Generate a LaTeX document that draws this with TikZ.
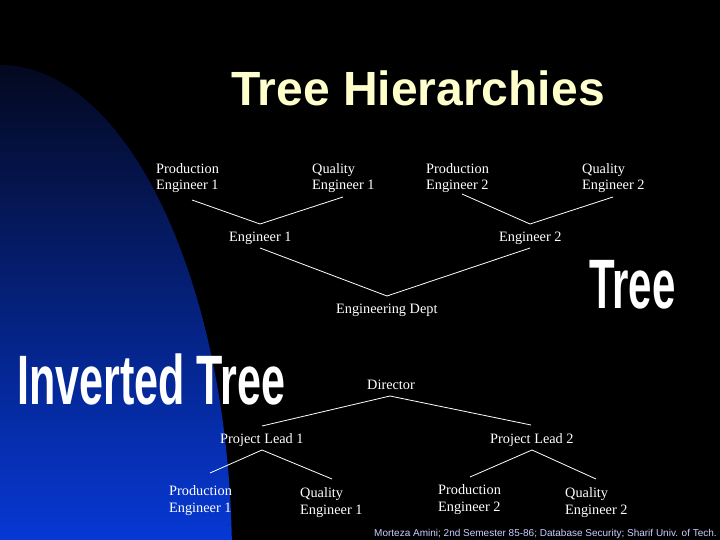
\documentclass[tikz,border=0pt]{standalone}
\usepackage{fontspec}
\setmainfont{Liberation Serif}
\newfontfamily\sansfont{Liberation Sans}
\definecolor{titlecol}{RGB}{255,255,204}
\definecolor{footcol}{RGB}{200,208,255}
\definecolor{navytop}{RGB}{4,8,30}
\definecolor{navymid}{RGB}{8,34,128}
\definecolor{navybot}{RGB}{6,56,212}
\tikzset{
  lbl/.style={text=white, font=\fontsize{14.3}{17}\selectfont, inner sep=0pt, anchor=base west, align=left},
  conn/.style={draw=white, line width=0.8pt},
  big/.style={text=white, inner sep=0pt, anchor=base west, font=\sansfont\bfseries\fontsize{70}{70}\selectfont}
}
\begin{document}
\begin{tikzpicture}[x=1pt,y=-1pt]
\fill[black] (0,0) rectangle (720,540);
\useasboundingbox (0,0) rectangle (720,540);
\begin{scope}
\clip (0,560) ellipse [x radius=232, y radius=495];
\shade[top color=navytop, middle color=navymid, bottom color=navybot] (0,60) rectangle (240,540);
\end{scope}

\node[inner sep=0pt, anchor=base west, text=titlecol, font=\sansfont\bfseries\fontsize{48}{48}\selectfont] (title) at (231,106) {Tree Hierarchies};

% top tree (base anchor = last line baseline)
\node[lbl] (pe1t) at (156,190) {Production\\Engineer 1};
\node[lbl] (qe1t) at (312,190) {Quality\\Engineer 1};
\node[lbl] (pe2t) at (426,190) {Production\\Engineer 2};
\node[lbl] (qe2t) at (582,190) {Quality\\Engineer 2};
\node[lbl] (e1) at (229,241) {Engineer 1};
\node[lbl] (e2) at (499,241) {Engineer 2};
\node[lbl] (ed) at (336,313) {Engineering Dept};

\coordinate (pe1tc) at (192,200);
\coordinate (qe1tc) at (343,197);
\coordinate (pe2tc) at (462,194);
\coordinate (qe2tc) at (613,197);
\coordinate (e1top) at (260,224);
\coordinate (e2top) at (530,224);
\coordinate (e1bot) at (260,248);
\coordinate (e2bot) at (530,248);
\coordinate (edtop) at (387,296);

\draw[conn] (pe1tc) -- (e1top) -- (qe1tc);
\draw[conn] (pe2tc) -- (e2top) -- (qe2tc);
\draw[conn] (e1bot) -- (edtop) -- (e2bot);

% bottom tree
\node[lbl] (dir) at (367,389) {Director};
\node[lbl] (pl1) at (220,443) {Project Lead 1};
\node[lbl] (pl2) at (490,443) {Project Lead 2};
\node[lbl] (pe1b) at (169,512) {Production\\Engineer 1};
\node[lbl] (qe1b) at (300,514) {Quality\\Engineer 1};
\node[lbl] (pe2b) at (438,511) {Production\\Engineer 2};
\node[lbl] (qe2b) at (565,514) {Quality\\Engineer 2};

\coordinate (dirbot) at (390,396);
\coordinate (pl1top) at (262,426);
\coordinate (pl2top) at (531,425);
\coordinate (pl1bot) at (262,450);
\coordinate (pl2bot) at (532,450);
\coordinate (pe1bc) at (210,473);
\coordinate (qe1bc) at (332,479);
\coordinate (pe2bc) at (470,477);
\coordinate (qe2bc) at (596,479);

\draw[conn] (pl1top) -- (dirbot) -- (pl2top);
\draw[conn] (pe1bc) -- (pl1bot) -- (qe1bc);
\draw[conn] (pe2bc) -- (pl2bot) -- (qe2bc);

% big labels
\node[big] (treelbl) at (589,308) {\scalebox{0.6}[1]{Tree}};
\node[big] (invlbl) at (17,404) {\scalebox{0.615}[1]{Inverted Tree}};

% footer
\node[inner sep=0pt, anchor=base east, text=footcol, font=\sansfont\fontsize{10}{11}\selectfont] (foot) at (717,536) {Morteza Amini; 2nd Semester 85-86; Database Security; Sharif Univ. of Tech.};
\end{tikzpicture}
\end{document}
